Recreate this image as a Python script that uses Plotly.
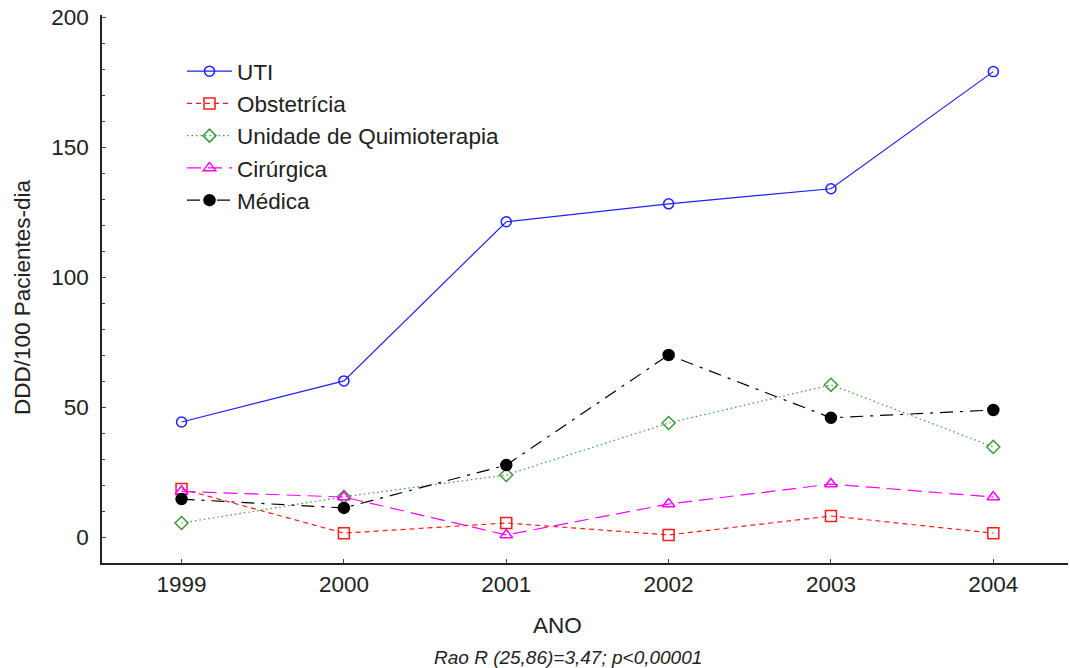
import plotly.graph_objects as go

years = [1999, 2000, 2001, 2002, 2003, 2004]
uti = [44.3, 60.1, 121.4, 128.3, 134.1, 179.2]
obstetricia = [18.5, 1.5, 5.4, 0.8, 8.1, 1.5]
quimioterapia = [5.4, 15.5, 23.9, 43.9, 58.6, 34.7]
cirurgica = [17.6, 15.4, 0.8, 12.7, 20.4, 15.4]
medica = [14.6, 11.2, 27.7, 70.1, 45.9, 48.9]

y_ticks = [0, 50, 100, 150, 200]

FONT = "Liberation Sans, Arial, sans-serif"
TXT = "#222222"
FS = 22.5

series = [
    ("UTI", uti, "#1f1fff", "solid", "circle-open", 10),
    ("Obstetrícia", obstetricia, "#ff1a1a", "5px,4px", "square-open", 11),
    ("Unidade de Quimioterapia", quimioterapia, "#3a9a3a", "1.5px,3px", "diamond-open", 10),
    ("Cirúrgica", cirurgica, "#ff00ff", "14px,7px", "triangle-up-open", 11),
    ("Médica", medica, "#000000", "13px,7px,3px,7px", "circle", 11),
]

fig = go.Figure()
for i, (name, vals, color, dash, sym, size) in enumerate(series):
    fig.add_trace(go.Scatter(
        x=years, y=vals, name=name, mode="lines+markers",
        legendgroup=f"g{i}",
        line=dict(color=color, width=1.2, dash=dash),
        marker=dict(symbol=sym, size=size, color=color,
                    line=dict(color=color, width=1.5)),
    ))

# plot area on screen: left 102, top 15, right 1068, bottom 563 (page body margin removed below)
fig.update_layout(
    width=1070, height=668,
    margin=dict(l=102, r=2, t=15, b=105, autoexpand=False),
    paper_bgcolor="white", plot_bgcolor="white",
    font=dict(family=FONT, size=FS, color=TXT),
    showlegend=True,
    legend=dict(x=(182 - 102) / 966, y=1 - (50 - 15) / 548, xanchor="left", yanchor="top",
                bgcolor="rgba(0,0,0,0)", font=dict(size=FS, family=FONT, color=TXT),
                itemwidth=45, tracegroupgap=0, traceorder="grouped"),
    xaxis=dict(range=[1998.51, 2004.46], tickvals=years, ticktext=[str(y) for y in years],
               automargin=False,
               showgrid=False, zeroline=False, showline=True, linecolor="#222222", linewidth=1.5,
               ticks="inside", ticklen=4, tickcolor="#444444",
               tickfont=dict(size=FS, family=FONT, color=TXT)),
    yaxis=dict(range=[-10, 201], tickvals=y_ticks, showgrid=False, zeroline=False,
               automargin=False,
               showline=True, linecolor="#222222", linewidth=1.5,
               ticks="inside", ticklen=4, tickcolor="#444444",
               ticklabelstandoff=7, ticklabeloverflow="allow",
               minor=dict(dtick=10, ticks="inside", ticklen=3, tickcolor="#444444"),
               tickfont=dict(size=FS, family=FONT, color=TXT)),
    annotations=[
        dict(text="ANO", x=557, y=625, xref="paper", yref="paper", showarrow=False,
             font=dict(size=FS, family=FONT, color=TXT)),
        dict(text="<i>Rao R (25,86)=3,47; p<0,00001</i>", x=568, y=657, xref="paper", yref="paper",
             showarrow=False, font=dict(size=19, family=FONT, color=TXT)),
        dict(text="DDD/100 Pacientes-dia", x=22, y=297, xref="paper", yref="paper",
             showarrow=False, textangle=-90, font=dict(size=FS, family=FONT, color=TXT)),
    ],
)

# convert on-screen pixel positions of annotations to paper coordinates
for a in fig.layout.annotations:
    px, py = a.x, a.y
    a.x = (px - 102) / 966
    a.y = 1 - (py - 15) / 548
    a.xanchor = "center"
    a.yanchor = "middle"

fig.write_html("out.html",
               config={"displayModeBar": False},
               post_script="document.body.style.margin='0';document.body.style.overflow='hidden';")
